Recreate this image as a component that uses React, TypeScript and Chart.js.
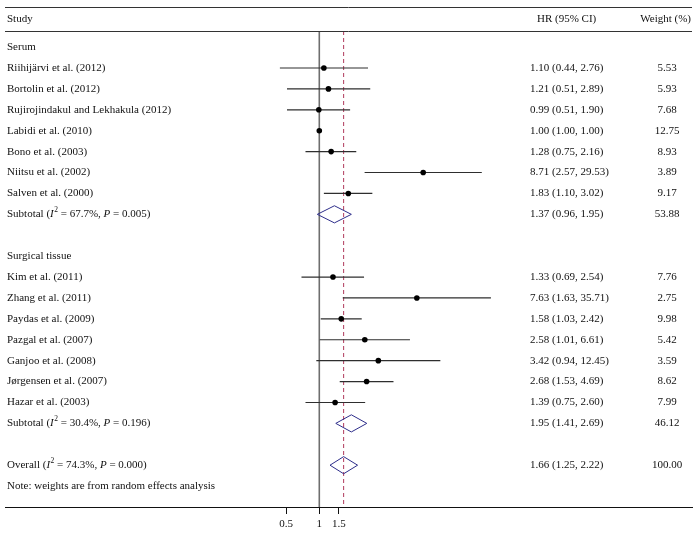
import React, { useEffect, useRef } from "react";
import { Chart, registerables } from "chart.js";

Chart.register(...registerables);

// ---------- data ----------
const groupLabels = ["Serum", "Surgical tissue"];

const serumNames = [
  "Riihijärvi et al. (2012)",
  "Bortolin et al. (2012)",
  "Rujirojindakul and Lekhakula (2012)",
  "Labidi et al. (2010)",
  "Bono et al. (2003)",
  "Niitsu et al. (2002)",
  "Salven et al. (2000)",
];
const serumHR = [1.1, 1.21, 0.99, 1.0, 1.28, 8.71, 1.83];
const serumLo = [0.44, 0.51, 0.51, 1.0, 0.75, 2.57, 1.1];
const serumHi = [2.76, 2.89, 1.9, 1.0, 2.16, 29.53, 3.02];
const serumWeight = [5.53, 5.93, 7.68, 12.75, 8.93, 3.89, 9.17];

const tissueNames = [
  "Kim et al. (2011)",
  "Zhang et al. (2011)",
  "Paydas et al. (2009)",
  "Pazgal et al. (2007)",
  "Ganjoo et al. (2008)",
  "Jørgensen et al. (2007)",
  "Hazar et al. (2003)",
];
const tissueHR = [1.33, 7.63, 1.58, 2.58, 3.42, 2.68, 1.39];
const tissueLo = [0.69, 1.63, 1.03, 1.01, 0.94, 1.53, 0.75];
const tissueHi = [2.54, 35.71, 2.42, 6.61, 12.45, 4.69, 2.6];
const tissueWeight = [7.76, 2.75, 9.98, 5.42, 3.59, 8.62, 7.99];

const subtotalHR = [1.37, 1.95];
const subtotalLo = [0.96, 1.41];
const subtotalHi = [1.95, 2.69];
const subtotalWeight = [53.88, 46.12];
const subtotalI2 = ["67.7%", "30.4%"];
const subtotalP = ["0.005", "0.196"];

const overallHR = 1.66;
const overallLo = 1.25;
const overallHi = 2.22;
const overallWeight = 100.0;
const overallI2 = "74.3%";
const overallP = "0.000";

const xTicks = [0.5, 1, 1.5];
const noteText = "Note: weights are from random effects analysis";

// ---------- rows ----------
type Row = {
  kind: "group" | "study" | "subtotal" | "overall" | "note";
  label: string;
  hr?: number;
  lo?: number;
  hi?: number;
  w?: number;
  i2?: string;
  p?: string;
  row: number;
};

function buildRows(): Row[] {
  const rows: Row[] = [];
  let r = 0;
  const groups = [
    { names: serumNames, hr: serumHR, lo: serumLo, hi: serumHi, w: serumWeight },
    { names: tissueNames, hr: tissueHR, lo: tissueLo, hi: tissueHi, w: tissueWeight },
  ];
  groups.forEach((g, gi) => {
    rows.push({ kind: "group", label: groupLabels[gi], row: r++ });
    g.names.forEach((n, i) => {
      rows.push({ kind: "study", label: n, hr: g.hr[i], lo: g.lo[i], hi: g.hi[i], w: g.w[i], row: r++ });
    });
    rows.push({
      kind: "subtotal",
      label: "Subtotal",
      hr: subtotalHR[gi],
      lo: subtotalLo[gi],
      hi: subtotalHi[gi],
      w: subtotalWeight[gi],
      i2: subtotalI2[gi],
      p: subtotalP[gi],
      row: r++,
    });
    r++; // blank row
  });
  rows.push({ kind: "overall", label: "Overall", hr: overallHR, lo: overallLo, hi: overallHi, w: overallWeight, i2: overallI2, p: overallP, row: r++ });
  rows.push({ kind: "note", label: noteText, row: r++ });
  return rows;
}

const FONT = '"Liberation Serif", "Times New Roman", serif';
const TEXT_COLOR = "#111";

function drawRich(ctx: CanvasRenderingContext2D, x: number, y: number, segs: { t: string; s: string }[]) {
  let cx = x;
  segs.forEach((seg) => {
    if (seg.s === "sup") {
      ctx.font = `7.5px ${FONT}`;
      ctx.fillText(seg.t, cx + 0.5, y - 4.5);
      cx += 0.5;
    } else if (seg.s === "italic") {
      ctx.font = `italic 11px ${FONT}`;
      ctx.fillText(seg.t, cx, y);
    } else {
      ctx.font = `11px ${FONT}`;
      ctx.fillText(seg.t, cx, y);
    }
    cx += ctx.measureText(seg.t).width;
  });
}

const fmt = (v: number) => v.toFixed(2);

export default function App() {
  const ref = useRef<HTMLCanvasElement | null>(null);

  useEffect(() => {
    document.body.style.margin = "0";
    const canvas = ref.current;
    if (!canvas) return;
    const rows = buildRows();
    const yMin = -0.77;
    const yMax = 22.0;

    const datasets: any[] = [];
    // reference line at 1
    datasets.push({
      type: "scatter",
      data: [{ x: 1, y: yMin }, { x: 1, y: yMax }],
      showLine: true,
      borderColor: "#6e6e6e",
      borderWidth: 1.6,
      pointRadius: 0,
      order: 20,
    });
    // overall dashed line
    datasets.push({
      type: "scatter",
      data: [{ x: overallHR, y: yMin }, { x: overallHR, y: yMax }],
      showLine: true,
      borderColor: "#b03a5c",
      borderWidth: 1,
      borderDash: [4, 3],
      pointRadius: 0,
      order: 19,
    });
    // CI lines
    rows
      .filter((r) => r.kind === "study" && r.lo !== r.hi)
      .forEach((r) => {
        datasets.push({
          type: "scatter",
          data: [{ x: r.lo, y: r.row }, { x: r.hi, y: r.row }],
          showLine: true,
          borderColor: "#2e2e2e",
          borderWidth: 1.2,
          pointRadius: 0,
          order: 5,
        });
      });
    // point estimates
    datasets.push({
      type: "scatter",
      data: rows.filter((r) => r.kind === "study").map((r) => ({ x: r.hr, y: r.row })),
      pointStyle: "circle",
      pointRadius: 2.8,
      backgroundColor: "#000",
      borderColor: "#000",
      borderWidth: 0,
      order: 1,
    });
    // diamonds
    rows
      .filter((r) => r.kind === "subtotal" || r.kind === "overall")
      .forEach((r) => {
        const h = 0.41;
        datasets.push({
          type: "scatter",
          data: [
            { x: r.lo, y: r.row },
            { x: r.hr, y: r.row - h },
            { x: r.hi, y: r.row },
            { x: r.hr, y: r.row + h },
            { x: r.lo, y: r.row },
          ],
          showLine: true,
          fill: false,
          borderColor: "#2d2d8a",
          borderWidth: 1,
          pointRadius: 0,
          order: 2,
        });
      });

    const textPlugin = {
      id: "forestText",
      afterDraw(chart: any) {
        const ctx: CanvasRenderingContext2D = chart.ctx;
        const ys = chart.scales.y;
        const area = chart.chartArea;
        ctx.save();
        // header lines
        ctx.strokeStyle = "#333";
        ctx.lineWidth = 1;
        ctx.beginPath();
        ctx.moveTo(area.left, 7.5);
        ctx.lineTo(area.right, 7.5);
        ctx.moveTo(area.left, area.top + 0.5);
        ctx.lineTo(area.right, area.top + 0.5);
        ctx.stroke();

        ctx.fillStyle = TEXT_COLOR;
        ctx.textBaseline = "middle";
        ctx.font = `11px ${FONT}`;
        ctx.textAlign = "left";
        ctx.fillText("Study", 7, 19);
        ctx.fillText("HR (95% CI)", 537, 19);
        ctx.textAlign = "right";
        ctx.fillText("Weight (%)", 691, 19);

        rows.forEach((r) => {
          const y = ys.getPixelForValue(r.row);
          ctx.textAlign = "left";
          ctx.font = `11px ${FONT}`;
          if (r.kind === "group" || r.kind === "note") {
            ctx.fillText(r.label, 7, y);
            return;
          }
          if (r.kind === "study") {
            ctx.fillText(r.label, 7, y);
          } else {
            drawRich(ctx, 7, y, [
              { t: r.label + " (", s: "n" },
              { t: "I", s: "italic" },
              { t: "2", s: "sup" },
              { t: " = " + r.i2 + ", ", s: "n" },
              { t: "P", s: "italic" },
              { t: " = " + r.p + ")", s: "n" },
            ]);
          }
          ctx.font = `11px ${FONT}`;
          ctx.textAlign = "left";
          ctx.fillText(`${fmt(r.hr!)} (${fmt(r.lo!)}, ${fmt(r.hi!)})`, 530, y);
          ctx.textAlign = "center";
          ctx.fillText(fmt(r.w!), 667, y);
        });
        ctx.restore();
      },
    };

    const chart = new Chart(canvas, {
      type: "scatter",
      data: { datasets },
      options: {
        animation: false,
        responsive: false,
        events: [],
        layout: { padding: { left: 5, right: 6, top: 31, bottom: 0 } },
        plugins: { legend: { display: false }, tooltip: { enabled: false } },
        scales: {
          x: {
            type: "logarithmic",
            min: Math.exp((5 - 319.3) / 48),
            max: Math.exp((692 - 319.3) / 48),
            afterBuildTicks: (scale: any) => {
              scale.ticks = xTicks.map((v) => ({ value: v }));
            },
            afterFit: (scale: any) => {
              scale.height = 27;
            },
            ticks: {
              autoSkip: false,
              maxRotation: 0,
              padding: 5,
              color: TEXT_COLOR,
              font: { family: FONT, size: 11, lineHeight: 1.0 },
              callback: (v: any) => String(v),
            },
            grid: {
              drawOnChartArea: false,
              drawTicks: true,
              tickLength: 7,
              tickColor: "#111",
              tickWidth: 1,
            },
            border: { display: true, color: "#111", width: 1 },
          },
          y: {
            type: "linear",
            reverse: true,
            min: yMin,
            max: yMax,
            display: false,
          },
        },
      },
      plugins: [textPlugin],
    } as any);

    return () => chart.destroy();
  }, []);

  return (
    <div style={{ width: 698, height: 534, background: "#fff" }}>
      <canvas ref={ref} width={698} height={534} style={{ display: "block" }} />
    </div>
  );
}
